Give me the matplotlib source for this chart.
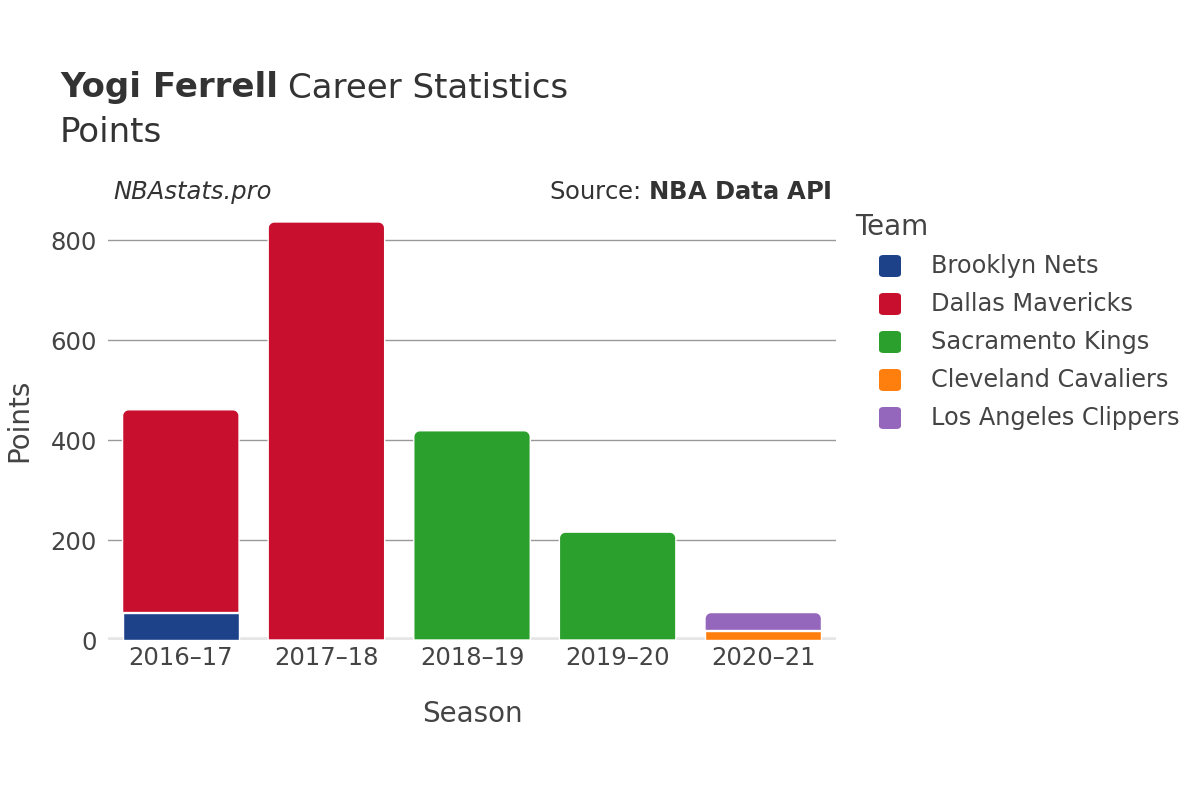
import matplotlib
matplotlib.use("Agg")
import matplotlib.pyplot as plt
from matplotlib.patches import FancyBboxPatch, PathPatch
from matplotlib.path import Path
import numpy as np

seasons = ["2016–17", "2017–18", "2018–19", "2019–20", "2020–21"]
teams = ["Brooklyn Nets", "Dallas Mavericks", "Sacramento Kings", "Cleveland Cavaliers", "Los Angeles Clippers"]
colors = ["#1d428a", "#c8102e", "#2ca02c", "#ff7f0e", "#9467bd"]
# points per team per season
nets = [55, 0, 0, 0, 0]
mavs = [406, 837, 0, 0, 0]
kings = [0, 0, 419, 216, 0]
cavs = [0, 0, 0, 0, 19]
clippers = [0, 0, 0, 0, 36]
series = [nets, mavs, kings, cavs, clippers]
yticks = [0, 200, 400, 600, 800]

plt.rcParams['font.family'] = ['DejaVu Sans']
txt = "#444444"

fig = plt.figure(figsize=(12, 8), dpi=100)
ax = fig.add_axes([0.09, 0.2, 0.6067, 0.55])
x = np.arange(len(seasons))
bottom = np.zeros(len(seasons))
top_patch = {}
for vals, col in zip(series, colors):
    v = np.array(vals, dtype=float)
    idx = np.where(v > 0)[0]
    bars = ax.bar(x[idx], v[idx], width=0.8, bottom=bottom[idx], color=col,
                  edgecolor="white", linewidth=1, zorder=3)
    for i, b in zip(idx, bars):
        top_patch[i] = b
    bottom += v

ax.set_xlim(-0.5, 4.5)
ax.set_ylim(0, 881)

# round the top corners of each stacked bar
rx = 6 / 145.5
ry = 6 / 0.4988
k = 0.5523
for i, b in top_patch.items():
    x0, y0 = b.get_x(), b.get_y()
    w, h = b.get_width(), b.get_height()
    x1, y1 = x0 + w, y0 + h
    verts = [(x0, y0), (x0, y1 - ry),
             (x0, y1 - ry + k * ry), (x0 + rx - k * rx, y1), (x0 + rx, y1),
             (x1 - rx, y1),
             (x1 - rx + k * rx, y1), (x1, y1 - ry + k * ry), (x1, y1 - ry),
             (x1, y0), (x0, y0)]
    codes = [Path.MOVETO, Path.LINETO, Path.CURVE4, Path.CURVE4, Path.CURVE4,
             Path.LINETO, Path.CURVE4, Path.CURVE4, Path.CURVE4, Path.LINETO, Path.CLOSEPOLY]
    pp = PathPatch(Path(verts, codes), facecolor=b.get_facecolor(), edgecolor="white",
                   linewidth=1, zorder=3)
    b.set_visible(False)
    ax.add_patch(pp)

ax.set_yticks(yticks)
ax.set_yticklabels([str(t) for t in yticks])
ax.set_xticks(x)
ax.set_xticklabels(seasons)
for s in ax.spines.values():
    s.set_visible(False)
ax.grid(axis="y", color="#999999", linewidth=1, zorder=0)
ax.set_axisbelow(True)
ax.axhline(0, color="#e6e6e6", linewidth=4, zorder=2)
ax.tick_params(axis="both", length=0, labelsize=17.5, colors=txt)
ax.tick_params(axis="y", pad=8)
ax.tick_params(axis="x", pad=4)
ax.set_xlabel("Season", fontsize=20, color=txt, labelpad=22)
ax.set_ylabel("Points", fontsize=20, color=txt, labelpad=12)

# titles
t1 = fig.text(0.05, 1 - 88 / 800, "Yogi Ferrell", fontsize=24.5, fontweight="bold", color="#333333", va="center")
fig.canvas.draw()
bb = t1.get_window_extent()
fig.text(bb.x1 / 1200 + 10 / 1200, 1 - 88 / 800, "Career Statistics", fontsize=24.5, color="#333333", va="center")
fig.text(0.05, 1 - 133 / 800, "Points", fontsize=24.5, color="#333333", va="center")
fig.text(113 / 1200, 1 - 192 / 800, "NBAstats.pro", fontsize=17.5, style="italic", color="#333333", va="center")
fig.text(832 / 1200, 1 - 192 / 800, "Source: $\\bf{NBA\\ Data\\ API}$", fontsize=17.5, color="#333333", va="center", ha="right")

# legend
fig.text(855 / 1200, 1 - 227 / 800, "Team", fontsize=20, color=txt, va="center")
for i, (t, c) in enumerate(zip(teams, colors)):
    yc = 266 + i * 38
    box = FancyBboxPatch((879 / 1200, 1 - (yc + 11) / 800), 22 / 1200, 22 / 800,
                         boxstyle="round,pad=0,rounding_size=0.004", transform=fig.transFigure,
                         facecolor=c, edgecolor="none")
    fig.add_artist(box)
    fig.text(931 / 1200, 1 - yc / 800, t, fontsize=17.3, color=txt, va="center")

fig.savefig("out.png", dpi=100, facecolor="white")
